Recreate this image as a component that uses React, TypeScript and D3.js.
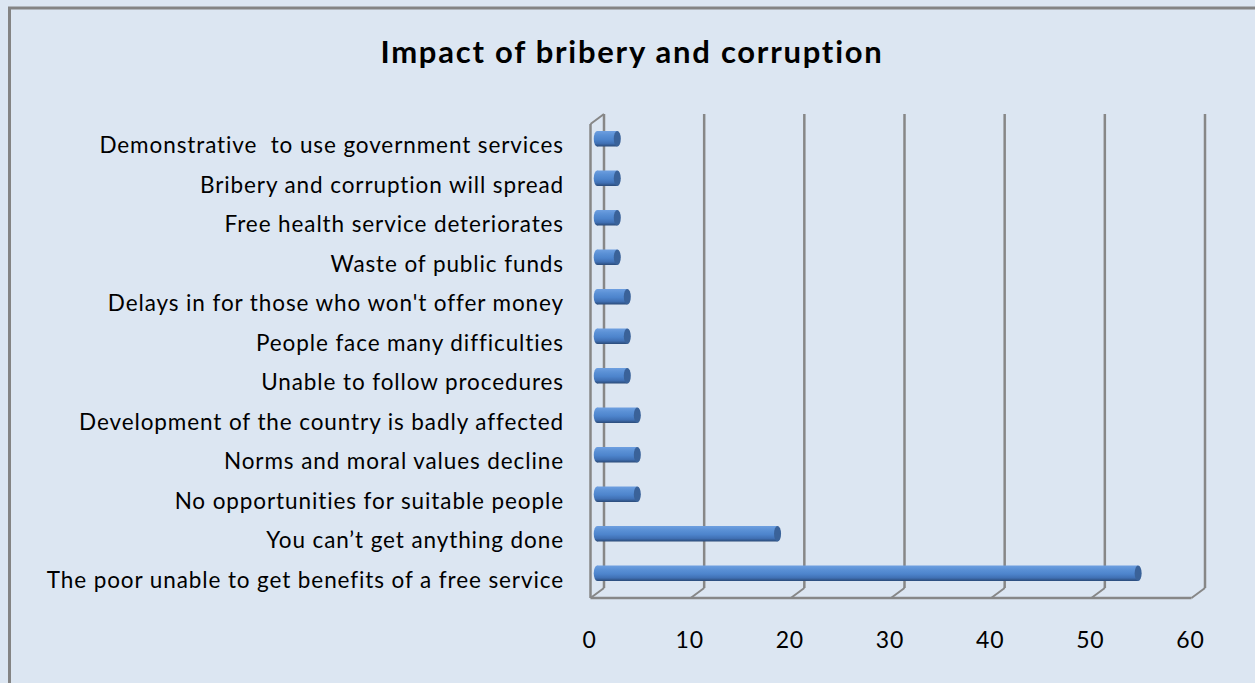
import React from "react";
import * as d3 from "d3";

const categories = [
  "Demonstrative  to use government services",
  "Bribery and corruption will spread",
  "Free health service deteriorates",
  "Waste of public funds",
  "Delays in for those who won't offer money",
  "People face many difficulties",
  "Unable to follow procedures",
  "Development of the country is badly affected",
  "Norms and moral values decline",
  "No opportunities for suitable people",
  "You can\u2019t get anything done",
  "The poor unable to get benefits of a free service",
];
const values = [2, 2, 2, 2, 3, 3, 3, 4, 4, 4, 18, 54];
const ticks = [0, 10, 20, 30, 40, 50, 60];
const title = "Impact of bribery and corruption";

const W = 1255;
const H = 683;
const DX = 13.5; // depth offset x (front -> back)
const DY = -10; // depth offset y (front -> back)

export default function App() {
  const x = d3.scaleLinear().domain([0, 60]).range([590.5, 1191.5]);
  const y = d3.scaleBand<string>().domain(categories).range([124, 598]);
  const front = 598;
  const top = 124;
  const barH = 15.5;
  const grid = "#878787";
  const font = "Lato, 'Noto Sans', sans-serif";
  const txtStyle = { fontVariantLigatures: "none" as const, whiteSpace: "pre" as const };

  return (
    <svg
      width={W}
      height={H}
      style={{ position: "absolute", left: 0, top: 0, display: "block" }}
    >
      <defs>
        <linearGradient id="cyl" x1="0" y1="0" x2="0" y2="1">
          <stop offset="0" stopColor="#6e9fe0" />
          <stop offset="0.25" stopColor="#5b91d6" />
          <stop offset="0.55" stopColor="#4d84cc" />
          <stop offset="0.8" stopColor="#4070b4" />
          <stop offset="0.92" stopColor="#33598f" />
          <stop offset="1" stopColor="#2a4a78" />
        </linearGradient>
      </defs>
      <rect x={0} y={0} width={W} height={H} fill="#dce6f2" />
      <rect x={9.5} y={8} width={W + 10} height={H + 10} fill="none" stroke="#848484" strokeWidth={3} />

      <text
        x={632}
        y={63}
        textAnchor="middle"
        fontFamily={font}
        fontWeight="bold"
        fontSize={31}
        letterSpacing={1.75}
        fill="#000"
        style={txtStyle}
      >
        {title}
      </text>

      {/* back wall gridlines */}
      {ticks.map((t) => (
        <line
          key={"g" + t}
          x1={x(t) + DX}
          x2={x(t) + DX}
          y1={top + DY}
          y2={front + DY}
          stroke={grid}
          strokeWidth={2.5}
        />
      ))}
      {/* floor diagonals */}
      {ticks.map((t) => (
        <line
          key={"d" + t}
          x1={x(t) + DX}
          x2={x(t)}
          y1={front + DY}
          y2={front}
          stroke={grid}
          strokeWidth={2}
        />
      ))}
      {/* floor front edge */}
      <line x1={x(0)} x2={x(60)} y1={front} y2={front} stroke={grid} strokeWidth={2.5} />
      {/* side wall front edge */}
      <line x1={x(0)} x2={x(0)} y1={top} y2={front} stroke={grid} strokeWidth={2.5} />
      <line x1={x(0)} x2={x(0) + DX} y1={top} y2={top + DY} stroke={grid} strokeWidth={2} />

      {/* bars */}
      {categories.map((c, i) => {
        const cy = (y(c) as number) + y.bandwidth() / 2 + DY / 2;
        const x0 = x(0) + DX / 2;
        const x1 = x(values[i]) + DX / 2;
        const rx = 3.5;
        return (
          <g key={"b" + i}>
            <rect x={x0} y={cy - barH / 2} width={x1 - x0} height={barH} fill="url(#cyl)" />
            <ellipse cx={x0} cy={cy} rx={rx} ry={barH / 2} fill="url(#cyl)" />
            <ellipse cx={x1} cy={cy} rx={rx} ry={barH / 2} fill="#3a6299" />
          </g>
        );
      })}

      {/* category labels */}
      {categories.map((c) => (
        <text
          key={"l" + c}
          x={564}
          y={(y(c) as number) + y.bandwidth() / 2 + 1.5}
          dy="0.35em"
          textAnchor="end"
          fontFamily={font}
          fontSize={22.5}
          letterSpacing={0.9}
          fill="#000"
          style={txtStyle}
        >
          {c}
        </text>
      ))}

      {/* value axis labels */}
      {ticks.map((t) => (
        <text
          key={"t" + t}
          x={x(t) - 1}
          y={640}
          dy="0.35em"
          textAnchor="middle"
          fontFamily={font}
          fontSize={23}
          letterSpacing={0.8}
          fill="#000"
          style={txtStyle}
        >
          {t}
        </text>
      ))}
    </svg>
  );
}
